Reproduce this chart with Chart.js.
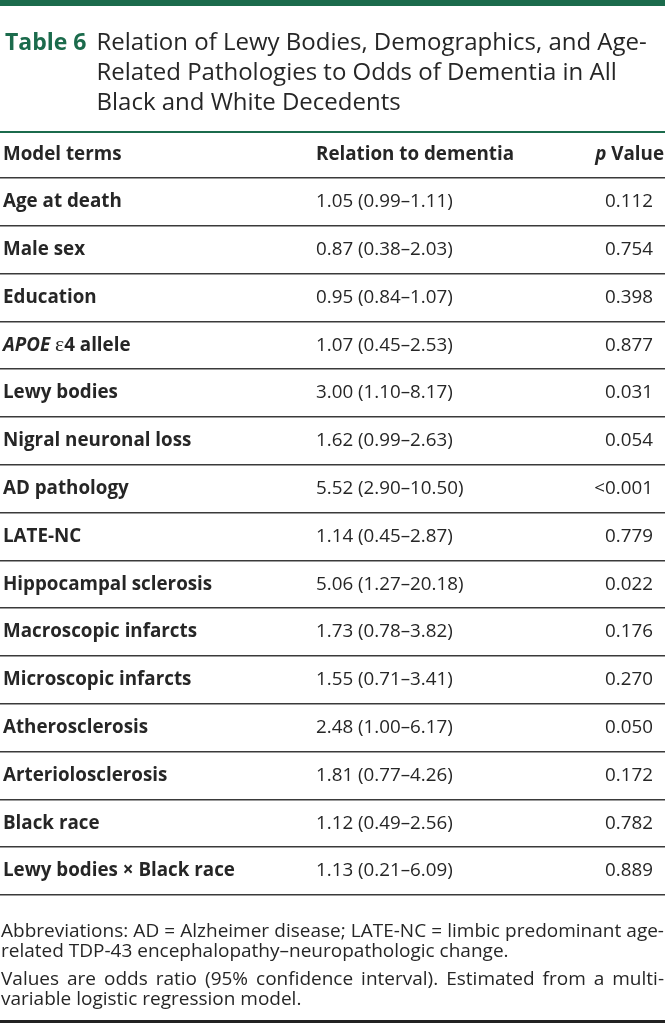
<!DOCTYPE html>
<html>
<head>
<meta charset="utf-8">
<script src="https://cdn.jsdelivr.net/npm/chart.js@4/dist/chart.umd.min.js"></script>
<style>
  body { margin: 0; background: #fff; font-family: 'Open Sans', sans-serif; color: #262626; }
  #page { position: relative; width: 665px; height: 1023px; overflow: hidden; }
  #table { position: absolute; left: 0; top: 0; }
  .topbar { position: absolute; left: 0; top: 0; width: 665px; height: 6px; background: #1b6b4c; }
  .title { position: absolute; left: 5px; top: 26px; width: 655px; display: flex; font-size: 24px; line-height: 30px; }
  .title .num { color: #1b6b4c; font-weight: 700; font-size: 23px; margin-right: 10px; flex: none; }
  .titlerule { position: absolute; left: 0; top: 131px; width: 665px; height: 2px; background: #1b6b4c; }
  .notes { position: absolute; left: 1px; top: 920px; width: 663px; font-size: 19px; line-height: 20px; }
  .notes div { text-align: justify; text-align-last: justify; white-space: nowrap; }
  .notes div.last { text-align-last: left; margin-bottom: 8px; }
  .bottomrule { position: absolute; left: 0; top: 1020px; width: 665px; height: 3px; background: #222; }
</style>
</head>
<body>
<div id="page">
  <canvas id="table" width="665" height="1023"></canvas>
  <div class="topbar"></div>
  <div class="title"><span class="num">Table 6</span><span>Relation of Lewy Bodies, Demographics, and Age-Related Pathologies to Odds of Dementia in All Black and White Decedents</span></div>
  <div class="titlerule"></div>
  <div class="notes">
    <div>Abbreviations: AD = Alzheimer disease; LATE-NC = limbic predominant age-</div>
    <div class="last">related TDP-43 encephalopathy–neuropathologic change.</div>
    <div>Values are odds ratio (95% confidence interval). Estimated from a multi-</div>
    <div class="last">variable logistic regression model.</div>
  </div>
  <div class="bottomrule"></div>
</div>
<script>
const headers = ['Model terms', 'Relation to dementia', 'p Value']
const terms = [
  'Age at death', 'Male sex', 'Education', 'APOE ε4 allele', 'Lewy bodies',
  'Nigral neuronal loss', 'AD pathology', 'LATE-NC', 'Hippocampal sclerosis',
  'Macroscopic infarcts', 'Microscopic infarcts', 'Atherosclerosis',
  'Arteriolosclerosis', 'Black race', 'Lewy bodies × Black race'
]
const oddsRatio = [1.05, 0.87, 0.95, 1.07, 3.00, 1.62, 5.52, 1.14, 5.06, 1.73, 1.55, 2.48, 1.81, 1.12, 1.13]
const ciLower = [0.99, 0.38, 0.84, 0.45, 1.10, 0.99, 2.90, 0.45, 1.27, 0.78, 0.71, 1.00, 0.77, 0.49, 0.21]
const ciUpper = [1.11, 2.03, 1.07, 2.53, 8.17, 2.63, 10.50, 2.87, 20.18, 3.82, 3.41, 6.17, 4.26, 2.56, 6.09]
const pValues = ['0.112', '0.754', '0.398', '0.877', '0.031', '0.054', '<0.001', '0.779', '0.022', '0.176', '0.270', '0.050', '0.172', '0.782', '0.889']

const TEXT = '#262626'
const FONT = "'Open Sans', sans-serif"
const SIZE = 18.8

// splits a cell into runs so italic / symbol parts can get their own font
function runs (text) {
  if (text.startsWith('APOE ')) {
    return [
      { t: 'APOE', f: `italic 700 ${SIZE}px ${FONT}` },
      { t: ' ', f: `700 ${SIZE}px ${FONT}` },
      { t: 'ε', f: `400 ${SIZE + 3}px 'Liberation Serif', serif` },
      { t: text.slice(6), f: `700 ${SIZE}px ${FONT}` }
    ]
  }
  if (text.startsWith('p ')) {
    return [
      { t: 'p', f: `italic 700 ${SIZE}px ${FONT}` },
      { t: text.slice(1), f: `700 ${SIZE}px ${FONT}` }
    ]
  }
  return null
}

function drawCell (ctx, text, x, y, weight, align) {
  const parts = runs(text) || [{ t: text, f: `${weight} ${SIZE}px ${FONT}` }]
  let w = 0
  parts.forEach(p => { ctx.font = p.f; w += ctx.measureText(p.t).width })
  let cx = align === 'right' ? x - w : x
  ctx.textAlign = 'left'
  parts.forEach(p => {
    ctx.font = p.f
    ctx.fillText(p.t, cx, y)
    cx += ctx.measureText(p.t).width
  })
}

const tableText = {
  id: 'tableText',
  afterDraw (chart) {
    const { ctx, scales: { y }, chartArea } = chart
    const rowH = y.getPixelForValue(1) - y.getPixelForValue(0)
    ctx.save()
    ctx.fillStyle = TEXT
    ctx.textBaseline = 'middle'
    const headY = chartArea.top - rowH / 2 + 1
    drawCell(ctx, headers[0], 3, headY, 700, 'left')
    drawCell(ctx, headers[1], 316, headY, 700, 'left')
    drawCell(ctx, headers[2], 664, headY, 700, 'right')
    terms.forEach((term, i) => {
      const py = y.getPixelForValue(i)
      drawCell(ctx, term, 3, py, 700, 'left')
      const ci = `${oddsRatio[i].toFixed(2)} (${ciLower[i].toFixed(2)}–${ciUpper[i].toFixed(2)})`
      drawCell(ctx, ci, 316, py, 400, 'left')
      drawCell(ctx, pValues[i], 653, py, 400, 'right')
    })
    ctx.restore()
  }
}

new Chart(document.getElementById('table'), {
  type: 'bar',
  data: { labels: terms, datasets: [] },
  options: {
    responsive: false,
    animation: false,
    events: [],
    layout: { padding: { top: 178, bottom: 128, left: 0, right: 0 } },
    plugins: { legend: { display: false }, tooltip: { enabled: false } },
    scales: {
      x: { display: false },
      y: {
        type: 'category',
        offset: true,
        grid: { offset: true, drawTicks: false, color: '#3a3a3a', lineWidth: 1.6 },
        border: { display: false },
        ticks: { display: false }
      }
    }
  },
  plugins: [tableText]
})
</script>
</body>
</html>
